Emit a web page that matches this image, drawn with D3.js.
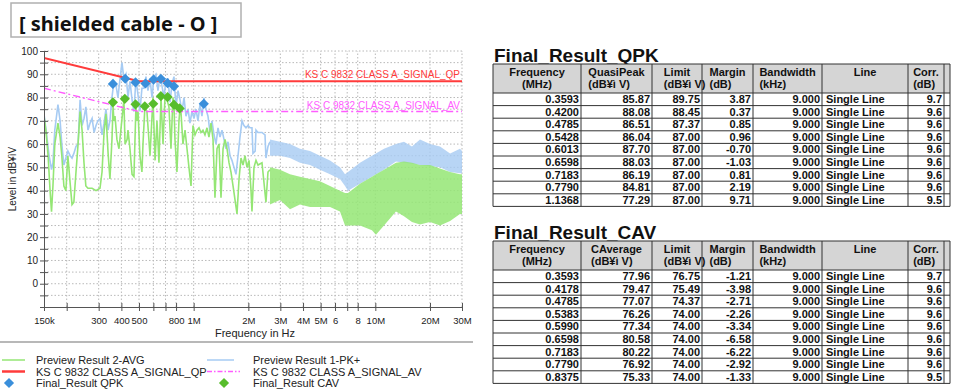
<!DOCTYPE html>
<html>
<head>
<meta charset="utf-8">
<script src="https://cdn.jsdelivr.net/npm/d3@7"></script>
<style>
  body { margin: 0; background: #fff; }
  svg { display: block; font-family: "Liberation Sans", Arial, sans-serif; }
  .grid line { stroke: #b9b9b9; stroke-dasharray: 1.5,2; }
  .axis path, .axis line { stroke: #555; }
  .axis text { font-size: 10px; fill: #222; }
  .ttitle { font-size: 19px; font-weight: bold; fill: #111; }
  .thead { font-size: 11px; font-weight: bold; fill: #111; }
  .tcell { font-size: 11px; font-weight: bold; fill: #111; }
  .legend text { font-size: 11px; fill: #222; }
</style>
</head>
<body>
<svg id="chart" width="958" height="390"></svg>
<script>
// ---- data ----
const xGridMHz = [0.15, 0.2, 0.3, 0.4, 0.5, 0.6, 0.7, 0.8, 1, 2, 3, 4, 5, 6, 7, 8, 10, 20, 30]
const xLabelMHz = [0.15, 0.3, 0.4, 0.5, 0.8, 1, 2, 3, 4, 5, 6, 8, 10, 20, 30]
const xLabelText = ['150k', '300', '400', '500', '800', '1M', '2M', '3M', '4M', '5M', '6', '8', '10M', '20M', '30M']
const yLabelDb = [0, 10, 20, 30, 40, 50, 60, 70, 80, 90, 100]

// limit lines (breakpoints)
const limitMHz = [0.15, 0.5, 30]
const qpLimitDb = [97, 87, 87]
const avLimitDb = [84, 74, 74]

// Preview Result 1-PK+ , low band [MHz, dB]
const pkTrace = [
  [0.150, 73], [0.154, 66], [0.160, 55], [0.165, 49], [0.168, 52], [0.172, 66], [0.179, 77], [0.184, 70],
  [0.188, 60], [0.193, 51], [0.198, 54], [0.203, 57], [0.209, 55], [0.214, 54], [0.219, 56], [0.225, 59],
  [0.231, 60], [0.237, 79], [0.243, 68], [0.249, 71], [0.255, 76], [0.262, 66], [0.269, 69], [0.276, 71],
  [0.283, 65], [0.290, 68], [0.297, 70], [0.305, 71], [0.313, 64], [0.321, 69], [0.329, 75], [0.338, 66],
  [0.346, 70], [0.355, 80], [0.364, 87], [0.374, 85], [0.383, 80], [0.393, 88], [0.403, 95], [0.413, 88],
  [0.424, 90], [0.435, 80], [0.446, 87], [0.458, 79], [0.469, 74], [0.481, 88], [0.494, 81], [0.506, 74],
  [0.519, 84], [0.533, 84], [0.546, 89], [0.560, 83], [0.575, 88], [0.590, 80], [0.605, 89], [0.620, 90],
  [0.636, 83], [0.653, 89], [0.669, 85], [0.687, 80], [0.704, 88], [0.722, 88], [0.741, 78], [0.760, 86],
  [0.779, 89], [0.799, 76], [0.820, 83], [0.841, 79], [0.862, 74], [0.885, 80], [0.907, 72], [0.931, 75],
  [0.954, 69], [0.979, 74], [1.004, 71], [1.030, 75], [1.056, 70], [1.083, 77], [1.111, 72], [1.140, 80],
  [1.169, 75], [1.199, 72], [1.230, 65], [1.261, 70], [1.294, 64], [1.327, 60], [1.361, 67], [1.396, 63],
  [1.432, 66], [1.469, 62], [1.507, 58], [1.545, 61], [1.585, 55], [1.625, 53], [1.667, 50], [1.710, 47],
  [1.754, 55], [1.799, 63], [1.845, 70], [1.892, 68], [1.941, 67], [1.991, 68], [2.042, 67], [2.094, 67],
  [2.120, 56], [2.180, 57], [2.203, 66], [2.260, 65], [2.377, 65], [2.470, 64], [2.500, 54], [2.565, 59],
  [2.631, 61]
]
// PK+ dense part: envelope of the trace
const pkBandMHz = [2.631, 2.986, 3.39, 3.848, 4.37, 4.958, 5.63, 6.388, 6.81, 7.07, 8.231, 9.583, 11.16, 12.99, 14.38, 15.91, 17.61, 20.0, 22.7, 25.8, 29.24, 30]
const pkBandHi = [62, 61, 60, 58, 57, 55, 53, 50, 47, 48, 52, 55, 58, 60, 61, 59, 62, 60, 59, 56, 58, 57]
const pkBandLo = [55, 55, 54, 52, 51, 49, 47, 45, 42, 40, 43, 46, 49, 52.5, 52, 51.5, 51, 50.5, 50, 48, 47.5, 47.5]

// Preview Result 2-AVG , low band [MHz, dB]
const avgTrace = [
  [0.150, 72], [0.154, 65], [0.158, 55], [0.162, 40], [0.165, 31], [0.168, 42], [0.172, 60], [0.179, 69],
  [0.184, 63], [0.188, 55], [0.193, 42], [0.198, 40], [0.203, 55], [0.209, 43], [0.214, 34], [0.219, 35],
  [0.225, 48], [0.231, 60], [0.237, 74], [0.243, 66], [0.249, 52], [0.255, 42], [0.262, 41], [0.276, 41],
  [0.290, 40], [0.305, 41], [0.313, 48], [0.321, 65], [0.329, 73], [0.338, 56], [0.346, 45], [0.355, 62],
  [0.360, 76], [0.364, 70], [0.369, 72], [0.378, 62], [0.388, 58], [0.402, 70], [0.413, 79], [0.419, 60],
  [0.430, 62], [0.435, 66], [0.446, 58], [0.458, 47], [0.469, 46], [0.481, 76], [0.487, 70], [0.494, 74],
  [0.506, 55], [0.519, 48], [0.526, 60], [0.539, 76], [0.553, 74], [0.575, 55], [0.597, 80], [0.613, 53],
  [0.628, 70], [0.644, 52], [0.661, 80], [0.678, 60], [0.695, 80], [0.713, 79], [0.731, 76], [0.750, 58],
  [0.769, 80], [0.779, 77], [0.789, 62], [0.809, 48], [0.830, 70], [0.840, 75], [0.851, 74], [0.873, 60],
  [0.896, 66], [0.919, 58], [0.942, 50], [0.967, 42], [0.991, 68], [1.017, 64], [1.043, 66], [1.070, 67],
  [1.097, 65], [1.125, 66], [1.154, 64], [1.184, 67], [1.214, 63], [1.246, 69], [1.278, 62], [1.310, 37],
  [1.344, 58], [1.379, 60], [1.414, 37], [1.451, 58], [1.488, 62], [1.526, 58], [1.565, 52], [1.605, 48],
  [1.647, 42], [1.689, 36], [1.732, 30], [1.777, 45], [1.822, 54], [1.869, 51], [1.917, 55], [1.966, 50],
  [2.017, 53], [2.069, 40], [2.094, 31], [2.148, 50], [2.203, 53], [2.260, 51], [2.377, 52], [2.500, 35],
  [2.565, 48], [2.631, 49]
]
const avgBandMHz = [2.631, 2.986, 3.39, 3.848, 4.37, 4.958, 5.63, 6.388, 6.81, 7.07, 8.231, 9.583, 10.08, 11.16, 12.99, 14.38, 15.91, 17.61, 20.0, 22.7, 25.8, 29.24, 30]
const avgBandHi = [50, 49, 47, 46, 45, 44, 42, 40, 39, 39, 43, 46, 47, 49, 52, 52.5, 52, 51, 51, 49.5, 48, 47, 47]
const avgBandLo = [34, 36, 32, 34, 33, 33, 33, 31, 25, 25, 25, 23, 21, 25, 31, 29, 26.5, 25.5, 26.5, 25, 27, 30, 30]

// Final_Result_QPK table
const qpkFreq = [0.3593, 0.4200, 0.4785, 0.5428, 0.6013, 0.6598, 0.7183, 0.7790, 1.1368]
const qpkLevel = [85.87, 88.08, 86.51, 86.04, 87.70, 88.03, 86.19, 84.81, 77.29]
const qpkLimit = [89.75, 88.45, 87.37, 87.00, 87.00, 87.00, 87.00, 87.00, 87.00]
const qpkMargin = [3.87, 0.37, 0.85, 0.96, -0.70, -1.03, 0.81, 2.19, 9.71]
const qpkCorr = [9.7, 9.6, 9.6, 9.6, 9.6, 9.6, 9.6, 9.6, 9.5]

// Final_Result_CAV table
const cavFreq = [0.3593, 0.4178, 0.4785, 0.5383, 0.5990, 0.6598, 0.7183, 0.7790, 0.8375]
const cavLevel = [77.96, 79.47, 77.07, 76.26, 77.34, 80.58, 80.22, 76.92, 75.33]
const cavLimit = [76.75, 75.49, 74.37, 74.00, 74.00, 74.00, 74.00, 74.00, 74.00]
const cavMargin = [-1.21, -3.98, -2.71, -2.26, -3.34, -6.58, -6.22, -2.92, -1.33]
const cavCorr = [9.7, 9.6, 9.6, 9.6, 9.6, 9.6, 9.6, 9.6, 9.5]

const bandwidthKHz = 9.000
const lineName = 'Single Line'

const qpkHead1 = ['Frequency', 'QuasiPeak', 'Limit', 'Margin', 'Bandwidth', 'Line', 'Corr.', '']
const cavHead1 = ['Frequency', 'CAverage', 'Limit', 'Margin', 'Bandwidth', 'Line', 'Corr.', '']
const head2 = ['(MHz)', '(dB\u00a5\u00ec V)', '(dB\u00a5\u00ec V)', '(dB)', '(kHz)', '', '(dB)', '']

const legendText = ['Preview Result 2-AVG', 'Preview Result 1-PK+', 'KS C 9832 CLASS A_SIGNAL_QP',
  'KS C 9832 CLASS A_SIGNAL_AV', 'Final_Result QPK', 'Final_Result CAV']

// ---- colours ----
const C = {
  pk: '#a6cbf3',
  avg: '#94e674',
  qp: '#ff3b3b',
  av: '#ff5cff',
  qpk: '#3a8fdb',
  cav: '#57bd2c'
}

const svg = d3.select('#chart')

const x = d3.scaleLog().domain([0.15, 30]).range([44, 462])
const y = d3.scaleLinear().domain([-10, 100]).range([307, 51])

// title box
svg.append('rect')
  .attr('x', 11).attr('y', 3).attr('width', 230).attr('height', 34)
  .attr('fill', '#fff').attr('stroke', '#b0b0b0').attr('stroke-width', 1.5)
svg.append('text')
  .attr('x', 19).attr('y', 31)
  .style('font-family', '"Noto Sans", sans-serif')
  .style('font-size', '20px').style('font-weight', 'bold').style('fill', '#111')
  .text('[ shielded cable - O ]')

// grid
const grid = svg.append('g').attr('class', 'grid')
grid.selectAll('line.v')
  .data(xGridMHz.slice(1))
  .join('line').attr('class', 'v')
  .attr('x1', d => x(d)).attr('x2', d => x(d))
  .attr('y1', y(-10)).attr('y2', y(100))
grid.selectAll('line.h')
  .data(d3.range(-5, 101, 5))
  .join('line').attr('class', 'h')
  .attr('x1', x(0.15)).attr('x2', x(30))
  .attr('y1', d => y(d)).attr('y2', d => y(d))

// traces
const plot = svg.append('g')
svg.append('clipPath').attr('id', 'clip')
  .append('rect').attr('x', 44).attr('y', 51).attr('width', 418).attr('height', 256)
plot.attr('clip-path', 'url(#clip)')

const line = d3.line().x(d => x(d[0])).y(d => y(d[1]))
const band = d3.area().x(d => x(d[0])).y0(d => y(d[2])).y1(d => y(d[1]))

plot.append('path')
  .datum(d3.zip(pkBandMHz, pkBandHi, pkBandLo))
  .attr('d', band).attr('fill', C.pk).attr('fill-opacity', 0.8)
plot.append('path')
  .datum(pkTrace)
  .attr('d', line).attr('fill', 'none').attr('stroke', C.pk).attr('stroke-width', 1.6)

plot.append('path')
  .datum(d3.zip(avgBandMHz, avgBandHi, avgBandLo))
  .attr('d', band).attr('fill', C.avg).attr('fill-opacity', 0.85)
plot.append('path')
  .datum(avgTrace)
  .attr('d', line).attr('fill', 'none').attr('stroke', C.avg).attr('stroke-width', 1.6)

// limit lines
plot.append('path')
  .datum(d3.zip(limitMHz, qpLimitDb))
  .attr('d', line).attr('fill', 'none').attr('stroke', C.qp).attr('stroke-width', 2)
plot.append('path')
  .datum(d3.zip(limitMHz, avLimitDb))
  .attr('d', line).attr('fill', 'none').attr('stroke', C.av).attr('stroke-width', 1.4)
  .attr('stroke-dasharray', '7,3,2,3')

svg.append('text')
  .attr('x', 460).attr('y', y(qpLimitDb[2]) - 3)
  .attr('text-anchor', 'end').style('font-size', '10px').style('fill', C.qp)
  .text(legendText[2])
svg.append('text')
  .attr('x', 460).attr('y', y(avLimitDb[2]) - 3)
  .attr('text-anchor', 'end').style('font-size', '10px').style('fill', C.av)
  .text(legendText[3])

// final result markers
const diamond = d3.symbol(d3.symbolSquare, 52)
svg.append('g').selectAll('path')
  .data(d3.zip(qpkFreq, qpkLevel))
  .join('path')
  .attr('d', diamond)
  .attr('transform', d => `translate(${x(d[0])},${y(d[1])}) rotate(45)`)
  .attr('fill', C.qpk)
svg.append('g').selectAll('path')
  .data(d3.zip(cavFreq, cavLevel))
  .join('path')
  .attr('d', diamond)
  .attr('transform', d => `translate(${x(d[0])},${y(d[1])}) rotate(45)`)
  .attr('fill', C.cav)

// axes
const yAxis = svg.append('g').attr('class', 'axis')
  .attr('transform', 'translate(44,0)')
  .call(d3.axisLeft(y)
    .tickValues(d3.range(-10, 101, 5))
    .tickFormat(d => yLabelDb.includes(d) ? d : '')
    .tickSizeInner(4).tickSizeOuter(0).tickPadding(2))
yAxis.selectAll('.tick line').attr('x1', -4).attr('x2', 4)

const xAxis = svg.append('g').attr('class', 'axis')
  .attr('transform', 'translate(0,307)')
  .call(d3.axisBottom(x)
    .tickValues(xGridMHz)
    .tickFormat(d => {
      const i = xLabelMHz.indexOf(d)
      return i < 0 ? '' : xLabelText[i]
    })
    .tickSizeInner(4).tickSizeOuter(0).tickPadding(6))
xAxis.selectAll('.tick line').attr('y1', -4).attr('y2', 4)
xAxis.selectAll('.tick text').style('font-size', '9.5px')

svg.append('text')
  .attr('x', 255).attr('y', 337).attr('text-anchor', 'middle')
  .style('font-size', '11px').style('fill', '#222')
  .text('Frequency in Hz')

svg.append('text')
  .attr('transform', 'translate(16,179) rotate(-90)')
  .attr('text-anchor', 'middle')
  .style('font-size', '10px').style('fill', '#222')
  .text('Level in dB\u00a5\u00ecV')

// separator above legend
svg.append('line')
  .attr('x1', 0).attr('x2', 473).attr('y1', 342).attr('y2', 342)
  .attr('stroke', '#a0a0a0').attr('stroke-width', 1.5)

// legend
const lg = svg.append('g').attr('class', 'legend')
const rowY = [360, 371.5, 383]
const colX = [[2, 25, 36], [207, 234, 253]]
const legendKind = ['avg', 'pk', 'qp', 'av', 'qpk', 'cav']
legendKind.forEach((k, i) => {
  const c = colX[i % 2]
  const yy = rowY[Math.floor(i / 2)]
  if (k === 'qpk' || k === 'cav') {
    lg.append('path').attr('d', diamond)
      .attr('transform', `translate(${k === 'qpk' ? 9 : 224},${yy}) rotate(45)`)
      .attr('fill', C[k])
  } else {
    lg.append('line')
      .attr('x1', c[0]).attr('x2', k === 'av' ? c[1] + 6 : c[1])
      .attr('y1', yy).attr('y2', yy)
      .attr('stroke', C[k])
      .attr('stroke-width', k === 'qp' ? 2.5 : 1.5)
      .attr('stroke-dasharray', k === 'av' ? '5,2,1.5,2' : null)
  }
  lg.append('text').attr('x', c[2]).attr('y', yy + 4).text(legendText[i])
})

// ---- tables ----
const colEdges = [493, 581, 652, 702, 753, 822, 908, 944, 950]

function drawTable(top, title, head1, rows) {
  const g = svg.append('g')
  const headH = 29
  const rowH = 12.6
  const x0 = colEdges[0], x1 = colEdges[colEdges.length - 1]
  const bottom = top + headH + rows.length * rowH

  g.append('text').attr('class', 'ttitle').attr('x', x0 + 1).attr('y', top - 2).text(title)

  g.append('rect')
    .attr('x', x0).attr('y', top).attr('width', x1 - x0).attr('height', headH)
    .attr('fill', '#d5d5d5')

  // header labels
  head1.forEach((h, i) => {
    if (!h) return
    const cx = (colEdges[i] + colEdges[i + 1]) / 2
    const t1 = g.append('text').attr('class', 'thead')
      .attr('x', cx).attr('y', top + 12).attr('text-anchor', 'middle').text(h)
    if (head2[i]) {
      const start = cx - t1.node().getComputedTextLength() / 2
      g.append('text').attr('class', 'thead')
        .attr('x', i === 0 ? cx : start).attr('y', top + 24)
        .attr('text-anchor', i === 0 ? 'middle' : 'start')
        .text(head2[i])
    }
  })

  // cells
  rows.forEach((r, j) => {
    const base = top + headH + j * rowH + 10
    r.forEach((v, i) => {
      const isLine = i === 5
      g.append('text').attr('class', 'tcell')
        .attr('x', isLine ? colEdges[i] + 4 : colEdges[i + 1] - 2)
        .attr('y', base)
        .attr('text-anchor', isLine ? 'start' : 'end')
        .text(v)
    })
  })

  // borders
  const hy = [top, top + headH].concat(d3.range(1, rows.length + 1).map(j => top + headH + j * rowH))
  g.selectAll('line.h').data(hy).join('line')
    .attr('x1', x0).attr('x2', x1).attr('y1', d => d).attr('y2', d => d)
    .attr('stroke', '#333').attr('stroke-width', 1)
  g.selectAll('line.v').data(colEdges).join('line')
    .attr('x1', d => d).attr('x2', d => d).attr('y1', top).attr('y2', bottom)
    .attr('stroke', '#333').attr('stroke-width', 1)
}

const fmtRows = (f, lv, lim, mg, corr) => f.map((d, i) => [
  d.toFixed(4), lv[i].toFixed(2), lim[i].toFixed(2), mg[i].toFixed(2),
  bandwidthKHz.toFixed(3), lineName, corr[i].toFixed(1)
])

drawTable(64, 'Final_Result_QPK', qpkHead1, fmtRows(qpkFreq, qpkLevel, qpkLimit, qpkMargin, qpkCorr))
drawTable(241, 'Final_Result_CAV', cavHead1, fmtRows(cavFreq, cavLevel, cavLimit, cavMargin, cavCorr))
</script>
</body>
</html>
